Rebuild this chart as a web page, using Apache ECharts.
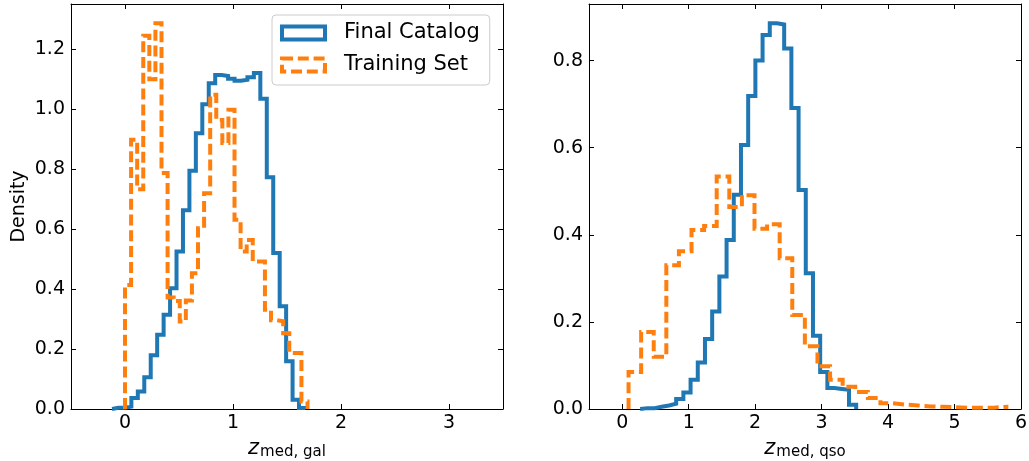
<!DOCTYPE html>
<html>
<head>
<meta charset="utf-8">
<script src="https://cdn.jsdelivr.net/npm/echarts@6/dist/echarts.min.js"></script>
<style>
  html, body { margin: 0; padding: 0; background: #ffffff; }
  #chart { width: 1029px; height: 461px; }
</style>
</head>
<body>
<div id="chart"></div>
<script>
// Histogram bin ranges [first edge, last edge]; every histogram uses equal-width bins.
const galFinalRange = [-0.12, 1.671];
const galTrainRange = [0.0, 1.69];
const qsoFinalRange = [0.27, 3.52];
const qsoTrainRange = [0.095, 5.78];

// Density per bin (galaxies)
const galFinal = [0.004, 0.004, 0.008, 0.037, 0.058, 0.106, 0.179, 0.248, 0.314, 0.403,
                  0.525, 0.663, 0.795, 0.920, 1.017, 1.087, 1.114, 1.111, 1.102, 1.095,
                  1.098, 1.107, 1.121, 1.035, 0.773, 0.520, 0.343, 0.159, 0.031, 0.003];
const galTrain = [0.414, 0.898, 0.733, 1.245, 1.100, 1.287, 0.787, 0.372, 0.360, 0.292,
                  0.362, 0.453, 0.603, 0.720, 1.048, 0.964, 0.887, 0.998, 0.631, 0.525,
                  0.564, 0.492, 0.492, 0.331, 0.296, 0.293, 0.253, 0.187, 0.187, 0.025];

// Density per bin (quasars)
const qsoFinal = [0.002, 0.002, 0.005, 0.008, 0.012, 0.023, 0.038, 0.067, 0.107, 0.161,
                  0.224, 0.304, 0.388, 0.492, 0.606, 0.719, 0.800, 0.859, 0.886, 0.883,
                  0.828, 0.691, 0.503, 0.312, 0.168, 0.085, 0.048, 0.046, 0.044, 0.010];
const qsoTrain = [0.085, 0.177, 0.120, 0.330, 0.362, 0.411, 0.420, 0.534, 0.464, 0.491,
                  0.414, 0.424, 0.346, 0.216, 0.144, 0.098, 0.067, 0.051, 0.039, 0.025,
                  0.013, 0.010, 0.008, 0.006, 0.005, 0.004, 0.003, 0.003, 0.003, 0.005];

// Tick positions
const galTicksX = [0, 1, 2, 3];
const qsoTicksX = [0, 1, 2, 3, 4, 5, 6];
const galTicksY = [0.0, 0.2, 0.4, 0.6, 0.8, 1.0, 1.2];
const qsoTicksY = [0.0, 0.2, 0.4, 0.6, 0.8];

const seriesNames = ['Final Catalog', 'Training Set'];

const FONT = 'DejaVu Sans';
const BLUE = '#1f77b4';
const ORANGE = '#ff7f0e';

// Outline of a step histogram: up from the baseline at the first edge,
// across each bin top, and back down at the last edge.
function stepOutline(range, values) {
  const n = values.length;
  const w = (range[1] - range[0]) / n;
  const pts = [[range[0], 0]];
  values.forEach((v, i) => {
    pts.push([range[0] + i * w, v]);
    pts.push([range[0] + (i + 1) * w, v]);
  });
  pts.push([range[1], 0]);
  return pts;
}

const axisLine = { show: true, onZero: false, lineStyle: { color: '#000', width: 1 } };

function xAxisPair(gridIndex, min, max, ticks, sub) {
  const base = {
    type: 'value', gridIndex, min, max,
    axisLine, splitLine: { show: false },
    axisTick: { show: true, inside: true, length: 5, customValues: ticks,
                lineStyle: { color: '#000', width: 1 } }
  };
  return [
    Object.assign({}, base, {
      position: 'bottom',
      axisLabel: { customValues: ticks, color: '#000', fontFamily: FONT, fontSize: 19, margin: 5,
                   formatter: v => String(v) },
      name: '{z|z}{s|' + sub + '}',
      nameLocation: 'middle',
      nameGap: 25,
      nameTextStyle: {
        rich: {
          z: { fontFamily: FONT, fontStyle: 'italic', fontSize: 21, color: '#000' },
          s: { fontFamily: FONT, fontSize: 15, color: '#000', padding: [7, 0, 0, 1] }
        }
      }
    }),
    Object.assign({}, base, { position: 'top', axisLabel: { show: false } })
  ];
}

function yAxisPair(gridIndex, max, ticks, name) {
  const base = {
    type: 'value', gridIndex, min: 0, max,
    axisLine, splitLine: { show: false },
    axisTick: { show: true, inside: true, length: 5, customValues: ticks,
                lineStyle: { color: '#000', width: 1 } }
  };
  const left = Object.assign({}, base, {
    position: 'left',
    axisLabel: { customValues: ticks, color: '#000', fontFamily: FONT, fontSize: 19, margin: 6,
                 formatter: v => v.toFixed(1) }
  });
  if (name) {
    Object.assign(left, {
      name, nameLocation: 'middle', nameGap: 42, nameRotate: 90,
      nameTextStyle: { fontFamily: FONT, fontSize: 19, color: '#000' }
    });
  }
  return [left, Object.assign({}, base, { position: 'right', axisLabel: { show: false } })];
}

function histSeries(name, range, values, xi, yi, color, dashed) {
  return {
    type: 'line', name, xAxisIndex: xi, yAxisIndex: yi,
    data: stepOutline(range, values),
    showSymbol: false, symbol: 'none', clip: true,
    lineStyle: { color, width: 4, type: dashed ? [11, 4.8] : 'solid', join: 'miter', cap: 'butt' },
    itemStyle: { color },
    emphasis: { disabled: true }
  };
}

const chart = echarts.init(document.getElementById('chart'), null, { renderer: 'canvas' });

chart.setOption({
  animation: false,
  backgroundColor: '#ffffff',
  grid: [
    { left: 71, top: 4, width: 432, height: 405, containLabel: false, outerBoundsMode: 'none' },
    { left: 589, top: 4, width: 432, height: 405, containLabel: false, outerBoundsMode: 'none' }
  ],
  xAxis: [
    ...xAxisPair(0, -0.5, 3.5, galTicksX, 'med, gal'),
    ...xAxisPair(1, -0.5, 6, qsoTicksX, 'med, qso')
  ],
  yAxis: [
    ...yAxisPair(0, 1.351, galTicksY, 'Density'),
    ...yAxisPair(1, 0.930, qsoTicksY, null)
  ],
  legend: {
    left: 272, top: 15, orient: 'vertical',
    padding: [7, 10, 9, 8], itemGap: 10, itemWidth: 43, itemHeight: 13,
    selectedMode: false,
    backgroundColor: 'rgba(255,255,255,0.8)',
    borderColor: '#cccccc', borderWidth: 1, borderRadius: 4,
    textStyle: { fontFamily: FONT, fontSize: 21, color: '#000', lineHeight: 22, padding: [0, 0, 0, 14] },
    data: [
      { name: seriesNames[0], icon: 'rect',
        itemStyle: { color: 'transparent', borderColor: BLUE, borderWidth: 4 } },
      { name: seriesNames[1], icon: 'rect',
        itemStyle: { color: 'transparent', borderColor: ORANGE, borderWidth: 4, borderType: [11, 4.8] } }
    ]
  },
  series: [
    histSeries(seriesNames[0], galFinalRange, galFinal, 0, 0, BLUE, false),
    histSeries(seriesNames[1], galTrainRange, galTrain, 0, 0, ORANGE, true),
    histSeries(seriesNames[0], qsoFinalRange, qsoFinal, 2, 2, BLUE, false),
    histSeries(seriesNames[1], qsoTrainRange, qsoTrain, 2, 2, ORANGE, true)
  ]
});
</script>
</body>
</html>
